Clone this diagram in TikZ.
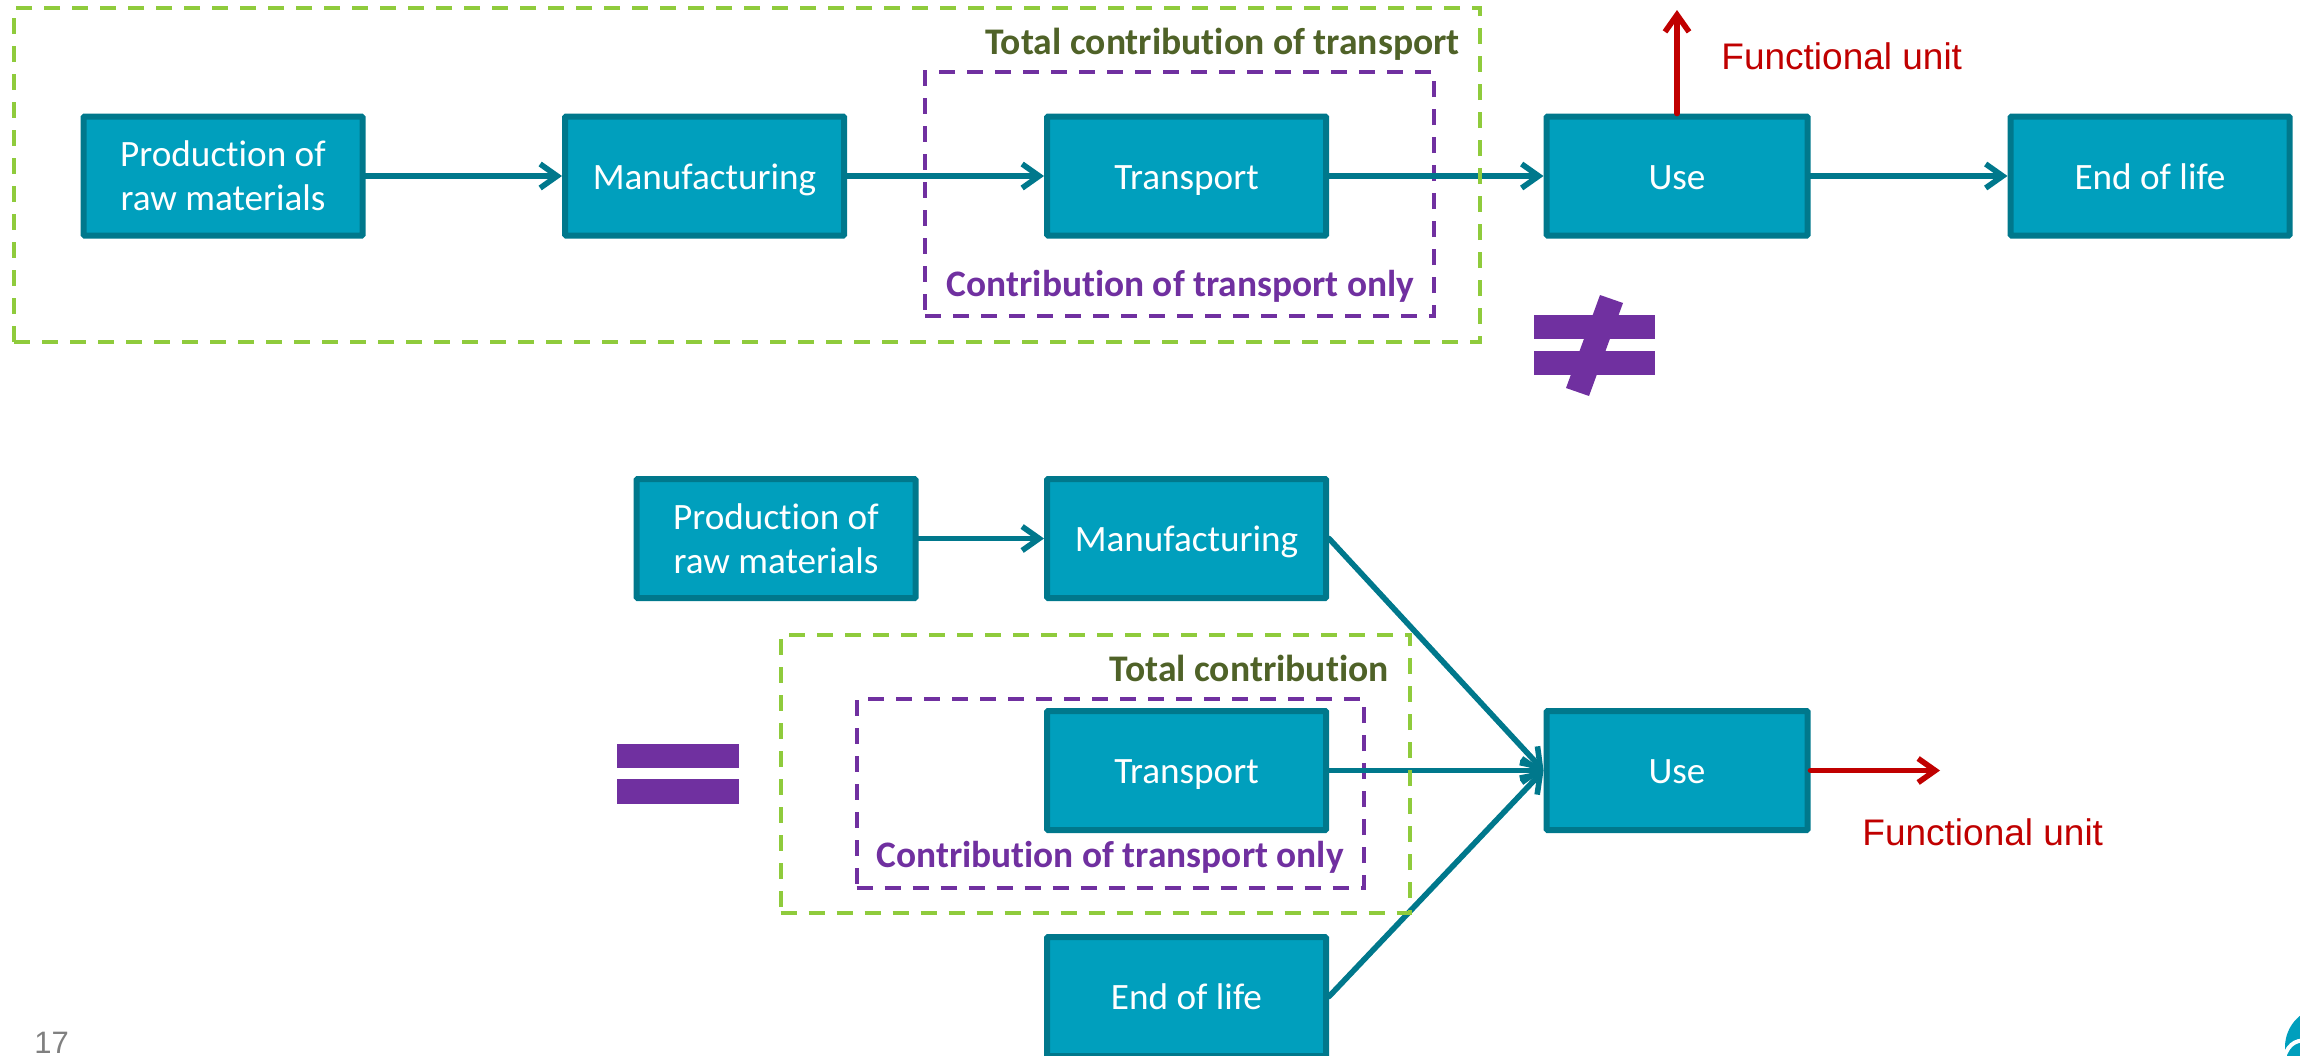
\documentclass[tikz,border=0pt]{standalone}
\usepackage{fontspec}
\setmainfont{Carlito}[Ligatures=CommonOff]
\newfontfamily\arialfont{Liberation Sans}
\usetikzlibrary{positioning, arrows.meta}

\definecolor{boxfill}{HTML}{009FBD}
\definecolor{boxline}{HTML}{00788C}
\definecolor{unitred}{HTML}{C00000}
\definecolor{framegreen}{HTML}{8FCB3C}
\definecolor{labelgreen}{HTML}{4F6228}
\definecolor{framepurple}{HTML}{7030A0}

\tikzset{
    block/.style={draw=boxline, fill=boxfill, line width=3pt, rounded corners=0.5pt, text=white,
        minimum width=139.5pt, minimum height=59.5pt, align=center, font=\fontsize{18.6}{22}\selectfont},
    oneblock/.style={block, text height=17pt, text depth=4pt},
    shortblock/.style={oneblock, minimum width=130.5pt},
    flow/.style={draw=boxline, line width=2.8pt, line cap=round, -{Straight Barb[length=8.5pt, width=12pt, line width=2.8pt]}},
    unitflow/.style={flow, draw=unitred},
    greenframe/.style={draw=framegreen, line width=2pt, dash pattern=on 8pt off 6pt},
    purpleframe/.style={draw=framepurple, line width=2pt, dash pattern=on 8pt off 6pt},
    greenlabel/.style={text=labelgreen, inner sep=0pt, font=\fontsize{18.8}{22}\selectfont\bfseries},
    purplelabel/.style={text=framepurple, inner sep=0pt, font=\fontsize{18.7}{22}\selectfont\bfseries},
    unitlabel/.style={text=unitred, inner sep=0pt, font=\fontsize{18.5}{22}\selectfont\arialfont},
}

\begin{document}
\begin{tikzpicture}[x=0.5pt, y=-0.5pt, on grid]
    \useasboundingbox (0,0) rectangle (2300,1055);
    \clip (0,0) rectangle (2300,1055);

    % upper chain
    \node[block] (raw) at (223,176) {Production of\\raw materials};
    \node[oneblock] (manuf) [right=240.75pt of raw] {Manufacturing};
    \node[oneblock] (trans) [right=241pt of manuf] {Transport};
    \node[shortblock] (use) [right=245.25pt of trans] {Use};
    \node[oneblock] (eol) [right=236.5pt of use] {End of life};

    % lower chain
    \node[block] (rawb) at (776,538.5) {Production of\\raw materials};
    \node[oneblock] (manufb) [right=205.25pt of rawb] {Manufacturing};
    \node[oneblock] (transb) at (1186.5,770.5) {Transport};
    \node[oneblock] (eolb) [below=113pt of transb] {End of life};
    \node[shortblock] (useb) [right=245.25pt of transb] {Use};

    % frames
    \node[purpleframe, minimum width=254.5pt, minimum height=122pt] (only) at (1179.5,194) {};
    \node[purplelabel] (onlytxt) at (1180.5,286) {Contribution of transport only};
    \node[purpleframe, minimum width=253.5pt, minimum height=94.5pt] (onlyb) at (1110,793.5) {};
    \node[purplelabel] (onlybtxt) at (1110,857) {Contribution of transport only};

    \path[->]
    (raw) edge[flow] (manuf)
    (manuf) edge[flow] (trans)
    (trans) edge[flow] (use)
    (use) edge[flow] (eol)
    (rawb) edge[flow] (manufb)
    (manufb.east) edge[flow] (useb.west)
    (transb) edge[flow] (useb)
    (eolb.east) edge[flow] (useb.west);

    \node[greenframe, minimum width=733pt, minimum height=167pt] (total) at (747,175) {};
    \node[greenlabel, anchor=east] (totaltxt) at (1460,44) {Total contribution of transport};
    \node[greenframe, minimum width=314.5pt, minimum height=139pt] (totalb) at (1095,774) {};
    \node[greenlabel, anchor=east] (totalbtxt) at (1389,668) {Total contribution};

    % functional unit
    \coordinate (up) at (1677,10);
    \coordinate (out) at (1940,770.5);
    \draw[unitflow] (use.north) -- (up);
    \draw[unitflow] (useb.east) -- (out);
    \node[unitlabel, anchor=west] (unit) at (1721,56) {Functional unit};
    \node[unitlabel, anchor=west] (unitb) at (1862,832) {Functional unit};

    % signs
    \fill[framepurple] (1600,295) -- (1623,303) -- (1589,396) -- (1566,388) -- cycle;
    \fill[framepurple] (1534,315) rectangle (1655,339);
    \fill[framepurple] (1534,351) rectangle (1655,375);
    \fill[framepurple] (617,744) rectangle (739,768);
    \fill[framepurple] (617,779) rectangle (739,804);

    % page number and logo
    \node[text=gray, inner sep=0pt, anchor=south west, font=\fontsize{15.5}{18}\selectfont\arialfont] (page) at (34,1054) {17};
    \fill[boxfill] (2325,1047) circle[radius=40];
    \draw[white, line width=2pt] (2284,1058) .. controls (2288,1042) and (2300,1038) .. (2310,1042);
\end{tikzpicture}
\end{document}
